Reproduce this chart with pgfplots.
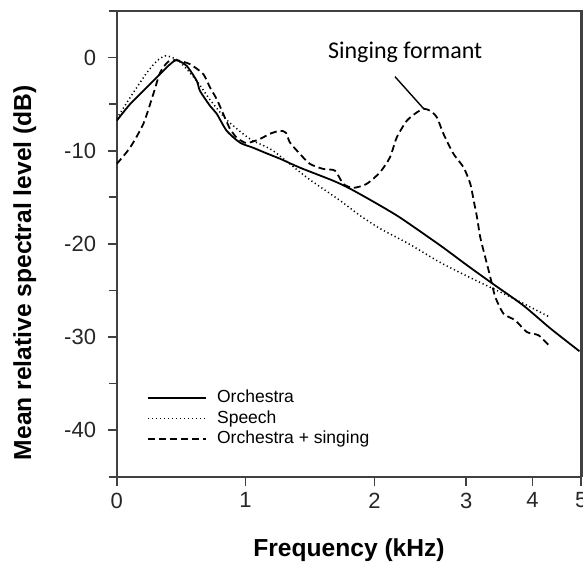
\documentclass[border=0pt]{standalone}
\usepackage{pgfplots}
\pgfplotsset{compat=1.18}
\usepackage{fontspec}
\setmainfont{Liberation Sans}
\newfontfamily\carlito{Carlito}
\definecolor{axgray}{HTML}{404040}
\begin{document}
\begin{tikzpicture}
\begin{axis}[
  name=ax,
  scale only axis,
  width=232.3pt, height=232.85pt,
  axis lines=box,
  clip mode=individual,
  x coord trafo/.code={\pgfmathparse{(#1<=2) ? #1 : ((#1<=3) ? (2+(#1-2)*0.713) : ((#1<=4) ? (2.713+(#1-3)*0.514) : (3.227+(#1-4)*0.378)))}},
  xmin=0, xmax=5, ymin=-45, ymax=5,
  xtick={0,1,2,3,4,5}, xticklabels={0,1,2,3,4,5},
  ytick={-40,-30,-20,-10,0}, yticklabels={-40,-30,-20,-10,0},
  minor ytick={-45,-35,-25,-15,-5,5},
  tick align=outside, xtick pos=bottom, ytick pos=left,
  major tick length=4.5pt, minor tick length=4pt,
  axis line style={axgray, line width=1pt},
  tick style={axgray, line width=0.9pt},
  minor tick style={axgray, line width=0.9pt},
  tick label style={font=\fontsize{11}{13}\selectfont, text=black!85},
  yticklabel style={xshift=-2.3pt},
  xlabel={Frequency (kHz)},
  xlabel style={font=\bfseries\fontsize{12.3}{14}\selectfont, at={([yshift=-36.6pt]axis description cs:0.5,0)}, anchor=center},
  ylabel={Mean relative spectral level (dB)},
  ylabel style={font=\bfseries\fontsize{12.3}{14}\selectfont, at={([xshift=-46pt]axis description cs:0,0.438)}, anchor=center},
  legend style={draw=none, fill=none, at={(rel axis cs:0.065,0.192)}, anchor=north west,
    font=\fontsize{8.75}{10}\selectfont, row sep=0pt, inner sep=0pt,
    nodes={inner sep=1pt, text height=6.5pt, text depth=1.8pt}},
  legend cell align=left,
  legend image code/.code={\draw[#1] (0pt,0pt) -- (29pt,0pt); \path (33pt,0pt);},
]
\addplot[black, line width=0.9pt, smooth, tension=0.4] coordinates {
(0,-6.78) (0.103,-5.01) (0.233,-3.21) (0.336,-1.78) (0.413,-0.73) (0.465,-0.28) (0.543,-0.89) (0.621,-2.50) (0.646,-3.57) (0.724,-5.18) (0.776,-6.03) (0.853,-7.85) (0.957,-9.14) (1.057,-9.67) (1.150,-10.21) (1.267,-10.86) (1.422,-11.82) (1.678,-13.21) (1.810,-14.07) (2.006,-15.57) (2.279,-17.18) (2.716,-20.17) (3.015,-22.32) (3.392,-24.25) (3.858,-26.60) (4.363,-29.07) (4.963,-31.53)
};
\addlegendentry{Orchestra}
\addplot[black, line width=0.75pt, dash pattern=on 0.6pt off 1.4pt, smooth, tension=0.4] coordinates {
(0,-6.57) (0.103,-4.32) (0.233,-1.64) (0.313,-0.35) (0.375,0.18) (0.429,0.02) (0.491,-0.46) (0.621,-2.50) (0.724,-4.53) (0.853,-6.68) (0.980,-8.18) (1.057,-8.93) (1.213,-10.00) (1.477,-12.89) (1.733,-15.35) (1.888,-16.96) (2.060,-18.35) (2.387,-20.07) (2.716,-22.0) (3.113,-23.82) (3.617,-25.53) (3.858,-26.39) (4.363,-27.89)
};
\addlegendentry{Speech}
\addplot[black, line width=0.9pt, dash pattern=on 3.5pt off 2pt, smooth, tension=0.4] coordinates {
(0,-11.42) (0.103,-9.68) (0.206,-7.14) (0.284,-3.92) (0.336,-1.64) (0.398,-0.46) (0.465,-0.28) (0.569,-0.71) (0.672,-1.78) (0.724,-3.21) (0.776,-4.46) (0.827,-6.06) (0.879,-7.64) (0.931,-8.6) (0.995,-9.14) (1.034,-9.11) (1.112,-8.74) (1.189,-8.18) (1.267,-7.85) (1.313,-8.07) (1.344,-9.11) (1.422,-10.35) (1.500,-11.42) (1.603,-11.96) (1.694,-12.14) (1.758,-13.56) (1.836,-13.99) (1.940,-13.56) (2.060,-12.32) (2.169,-10.71) (2.243,-8.57) (2.352,-6.78) (2.461,-5.89) (2.533,-5.50) (2.607,-5.71) (2.680,-6.43) (2.752,-8.21) (2.861,-10.35) (2.970,-11.79) (3.060,-13.56) (3.111,-15.35) (3.161,-17.14) (3.210,-19.29) (3.285,-21.43) (3.336,-22.85) (3.386,-24.28) (3.437,-25.72) (3.561,-27.49) (3.738,-28.21) (3.914,-29.47) (4.123,-29.82) (4.363,-31.07)
};
\addlegendentry{Orchestra + singing}
\node[anchor=base, font=\carlito\fontsize{12}{14}\selectfont] at (rel axis cs:0.621,0.898) {Singing formant};
\draw[black, line width=0.7pt] (rel axis cs:0.599,0.859) -- (rel axis cs:0.660,0.791);
\draw[axgray, line width=1.2pt] (rel axis cs:0,1) -- (rel axis cs:1,1) -- (rel axis cs:1,0);
\end{axis}
\pgfresetboundingbox
\path[use as bounding box] ([xshift=-58.35pt,yshift=-43.65pt]ax.south west) rectangle ([xshift=0.85pt,yshift=5.5pt]ax.north east);
\end{tikzpicture}
\end{document}
